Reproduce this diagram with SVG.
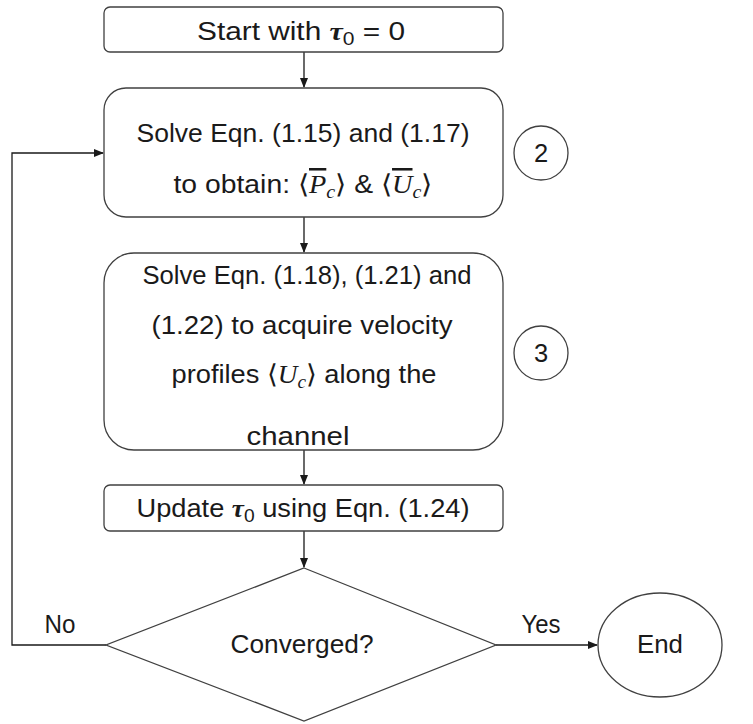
<svg xmlns="http://www.w3.org/2000/svg" width="753" height="724" viewBox="0 0 753 724">
<style>
.box{fill:#fff;stroke:#404040;stroke-width:1.3}
.t{font-family:"Liberation Sans",Arial,sans-serif;font-size:25.5px;fill:#1a1a1a;text-anchor:middle}
.m{font-family:"Liberation Serif","DejaVu Serif",serif;font-style:italic}
.mb{font-family:"Liberation Serif","DejaVu Serif",serif;font-style:italic;font-weight:bold}
.sub{font-size:18px}
.ln{fill:none;stroke:#1a1a1a;stroke-width:1.3}
</style>
<defs>
<marker id="ah" markerWidth="10" markerHeight="8" refX="9" refY="4" orient="auto" markerUnits="userSpaceOnUse">
<path d="M0,0 L10,4 L0,8 z" fill="#1a1a1a"/>
</marker>
</defs>
<rect width="753" height="724" fill="#fff"/>
<g id="connectors">
<line class="ln" x1="304" y1="52" x2="304" y2="87" marker-end="url(#ah)"/>
<line class="ln" x1="304" y1="217" x2="304" y2="252" marker-end="url(#ah)"/>
<line class="ln" x1="304" y1="450" x2="304" y2="484" marker-end="url(#ah)"/>
<line class="ln" x1="304" y1="531" x2="304" y2="567" marker-end="url(#ah)"/>
<polyline class="ln" points="106,645 12,645 12,153 103,153" marker-end="url(#ah)"/>
<line class="ln" x1="496" y1="645" x2="597" y2="645" marker-end="url(#ah)"/>
<text class="t" x="60" y="633" textLength="31" lengthAdjust="spacingAndGlyphs">No</text>
<text class="t" x="541" y="633" textLength="39" lengthAdjust="spacingAndGlyphs">Yes</text>
</g>
<g id="start">
<rect class="box" x="104" y="7" width="399" height="45" rx="6"/>
<text class="t" x="301" y="40" textLength="208" lengthAdjust="spacingAndGlyphs">Start with <tspan class="mb">τ</tspan><tspan class="sub" dy="5">0</tspan><tspan dy="-5"> = 0</tspan></text>
</g>
<g id="step2">
<rect class="box" x="104" y="88" width="399" height="129" rx="22"/>
<text class="t" x="303" y="142" textLength="333" lengthAdjust="spacingAndGlyphs">Solve Eqn. (1.15) and (1.17)</text>
<text class="t" x="303" y="193" textLength="259" lengthAdjust="spacingAndGlyphs">to obtain: ⟨<tspan class="m" style="text-decoration:overline">P</tspan><tspan class="m sub" dy="5">c</tspan><tspan dy="-5">⟩ &amp; ⟨</tspan><tspan class="m" style="text-decoration:overline">U</tspan><tspan class="m sub" dy="5">c</tspan><tspan dy="-5">⟩</tspan></text>
</g>
<g id="label2">
<circle class="box" cx="541" cy="153" r="27"/>
<text class="t" x="541" y="162">2</text>
</g>
<g id="step3">
<rect class="box" x="104" y="253" width="399" height="197" rx="30"/>
<text class="t" x="307" y="284" textLength="329" lengthAdjust="spacingAndGlyphs">Solve Eqn. (1.18), (1.21) and</text>
<text class="t" x="302" y="334" textLength="301" lengthAdjust="spacingAndGlyphs">(1.22) to acquire velocity</text>
<text class="t" x="304" y="383" textLength="265" lengthAdjust="spacingAndGlyphs">profiles ⟨<tspan class="m">U</tspan><tspan class="m sub" dy="5">c</tspan><tspan dy="-5">⟩ along the</tspan></text>
<text class="t" x="298" y="445" textLength="103" lengthAdjust="spacingAndGlyphs">channel</text>
</g>
<g id="label3">
<circle class="box" cx="541" cy="353" r="27"/>
<text class="t" x="541" y="362">3</text>
</g>
<g id="update">
<rect class="box" x="104" y="485" width="399" height="46" rx="6"/>
<text class="t" x="303" y="517" textLength="333" lengthAdjust="spacingAndGlyphs">Update <tspan class="mb">τ</tspan><tspan class="sub" dy="5">0</tspan><tspan dy="-5"> using Eqn. (1.24)</tspan></text>
</g>
<g id="decision">
<polygon class="box" points="304,568 496,645 304,721 106,645"/>
<text class="t" x="302" y="653" textLength="143" lengthAdjust="spacingAndGlyphs">Converged?</text>
</g>
<g id="end">
<ellipse class="box" cx="660" cy="645" rx="62" ry="52"/>
<text class="t" x="660" y="653" textLength="46" lengthAdjust="spacingAndGlyphs">End</text>
</g>
</svg>
